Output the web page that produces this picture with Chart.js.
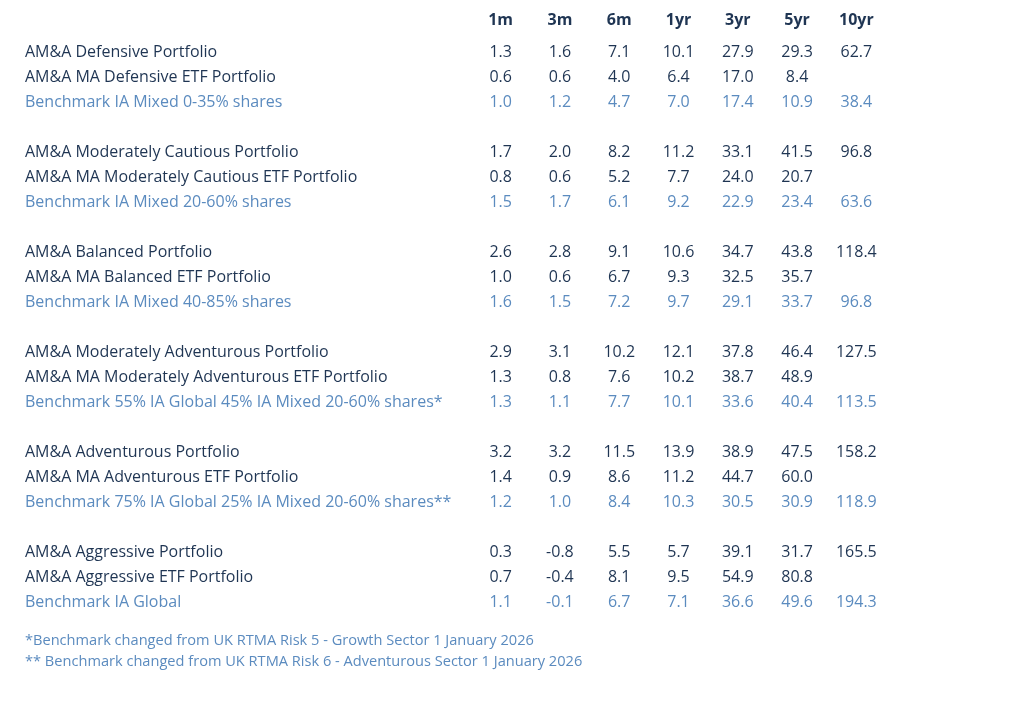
<!DOCTYPE html>
<html>
<head>
<meta charset="utf-8">
<script src="https://cdn.jsdelivr.net/npm/chart.js@4/dist/chart.umd.min.js"></script>
<style>
  html, body { margin: 0; padding: 0; background: #ffffff; }
  #wrap { width: 1024px; height: 714px; position: relative; }
</style>
</head>
<body>
<div id="wrap"><canvas id="c"></canvas></div>
<script>
const periods = ['1m', '3m', '6m', '1yr', '3yr', '5yr', '10yr'];

const portfolios = [
  'AM&A Defensive Portfolio',
  'AM&A MA Defensive ETF Portfolio',
  'Benchmark IA Mixed 0-35% shares',
  null,
  'AM&A Moderately Cautious Portfolio',
  'AM&A MA Moderately Cautious ETF Portfolio',
  'Benchmark IA Mixed 20-60% shares',
  null,
  'AM&A Balanced Portfolio',
  'AM&A MA Balanced ETF Portfolio',
  'Benchmark IA Mixed 40-85% shares',
  null,
  'AM&A Moderately Adventurous Portfolio',
  'AM&A MA Moderately Adventurous ETF Portfolio',
  'Benchmark 55% IA Global 45% IA Mixed 20-60% shares*',
  null,
  'AM&A Adventurous Portfolio',
  'AM&A MA Adventurous ETF Portfolio',
  'Benchmark 75% IA Global 25% IA Mixed 20-60% shares**',
  null,
  'AM&A Aggressive Portfolio',
  'AM&A Aggressive ETF Portfolio',
  'Benchmark IA Global'
];

const returns = [
  [1.3, 1.6, 7.1, 10.1, 27.9, 29.3, 62.7],
  [0.6, 0.6, 4.0, 6.4, 17.0, 8.4, null],
  [1.0, 1.2, 4.7, 7.0, 17.4, 10.9, 38.4],
  null,
  [1.7, 2.0, 8.2, 11.2, 33.1, 41.5, 96.8],
  [0.8, 0.6, 5.2, 7.7, 24.0, 20.7, null],
  [1.5, 1.7, 6.1, 9.2, 22.9, 23.4, 63.6],
  null,
  [2.6, 2.8, 9.1, 10.6, 34.7, 43.8, 118.4],
  [1.0, 0.6, 6.7, 9.3, 32.5, 35.7, null],
  [1.6, 1.5, 7.2, 9.7, 29.1, 33.7, 96.8],
  null,
  [2.9, 3.1, 10.2, 12.1, 37.8, 46.4, 127.5],
  [1.3, 0.8, 7.6, 10.2, 38.7, 48.9, null],
  [1.3, 1.1, 7.7, 10.1, 33.6, 40.4, 113.5],
  null,
  [3.2, 3.2, 11.5, 13.9, 38.9, 47.5, 158.2],
  [1.4, 0.9, 8.6, 11.2, 44.7, 60.0, null],
  [1.2, 1.0, 8.4, 10.3, 30.5, 30.9, 118.9],
  null,
  [0.3, -0.8, 5.5, 5.7, 39.1, 31.7, 165.5],
  [0.7, -0.4, 8.1, 9.5, 54.9, 80.8, null],
  [1.1, -0.1, 6.7, 7.1, 36.6, 49.6, 194.3]
];

const footnotes = [
  '*Benchmark changed from UK RTMA Risk 5 - Growth Sector 1 January 2026',
  '** Benchmark changed from UK RTMA Risk 6 - Adventurous Sector 1 January 2026'
];

const DARK = '#1f3553';
const LIGHT = '#5b8bbf';
const FONT = '"Open Sans", "Noto Sans", sans-serif';

// cells built from the arrays
const cells = [];
returns.forEach((row, r) => {
  if (!row) return;
  row.forEach((v, c) => {
    if (v === null) return;
    cells.push({ x: c, y: r, text: v.toFixed(1), bench: portfolios[r].startsWith('Benchmark') });
  });
});

const tablePlugin = {
  id: 'tableText',
  afterDatasetsDraw(chart) {
    const ctx = chart.ctx;
    const xs = chart.scales.x, ys = chart.scales.y;
    const dy = 1.5;
    ctx.save();
    ctx.textBaseline = 'middle';
    // header
    ctx.font = 'bold 16px ' + FONT;
    ctx.fillStyle = DARK;
    ctx.textAlign = 'center';
    periods.forEach((p, i) => ctx.fillText(p, xs.getPixelForValue(i), 20));
    // row labels
    ctx.font = '16px ' + FONT;
    ctx.textAlign = 'left';
    portfolios.forEach((name, r) => {
      if (!name) return;
      ctx.fillStyle = name.startsWith('Benchmark') ? LIGHT : DARK;
      ctx.fillText(name, 25, ys.getPixelForValue(r) + dy);
    });
    // values from dataset elements
    const meta = chart.getDatasetMeta(0);
    ctx.textAlign = 'center';
    meta.data.forEach((pt, i) => {
      const d = cells[i];
      ctx.fillStyle = d.bench ? LIGHT : DARK;
      ctx.fillText(d.text, pt.x, pt.y + dy);
    });
    // footnotes
    ctx.font = '14.6px ' + FONT;
    ctx.fillStyle = LIGHT;
    ctx.textAlign = 'left';
    footnotes.forEach((f, i) => ctx.fillText(f, 25, 641 + i * 21));
    ctx.restore();
  }
};

new Chart(document.getElementById('c'), {
  type: 'scatter',
  data: {
    datasets: [{
      data: cells.map(d => ({ x: d.x, y: d.y })),
      pointRadius: 0,
      pointHoverRadius: 0,
      showLine: false
    }]
  },
  options: {
    responsive: true,
    maintainAspectRatio: false,
    animation: false,
    events: [],
    layout: { padding: { left: 471, right: 138, top: 38.5, bottom: 100.5 } },
    plugins: { legend: { display: false }, tooltip: { enabled: false } },
    scales: {
      x: { type: 'linear', min: -0.5, max: 6.5, display: false },
      y: { type: 'linear', min: -0.5, max: 22.5, reverse: true, display: false }
    }
  },
  plugins: [tablePlugin]
});
</script>
</body>
</html>
